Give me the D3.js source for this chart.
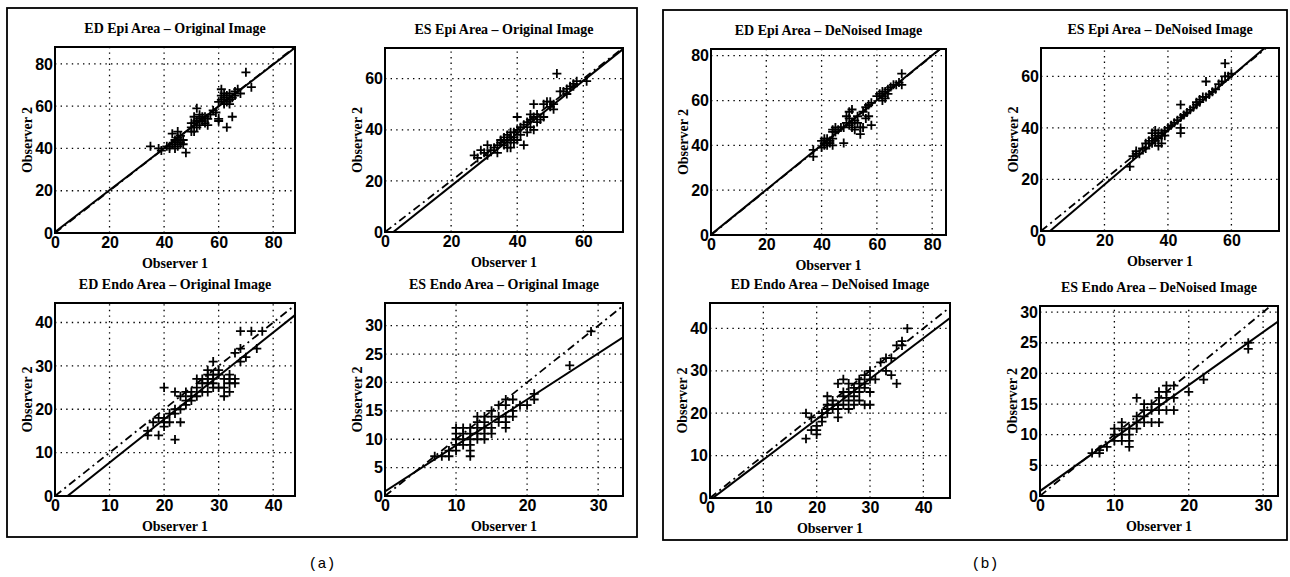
<!DOCTYPE html>
<html>
<head>
<meta charset="utf-8">
<script src="https://d3js.org/d3.v7.min.js"></script>
<style>
  body { margin: 0; background: #fff; }
  svg { font-family: "Liberation Serif", "DejaVu Serif", serif; }
  .tick text { font-weight: bold; font-size: 16px; }
  .title, .xlab, .ylab { font-weight: bold; font-size: 14px; }
  .grid line { stroke: #000; stroke-width: 1.3; stroke-dasharray: 1.4,4.2; }
  .frame { fill: none; stroke: #000; stroke-width: 2; }
  .box { fill: none; stroke: #000; stroke-width: 1.8; }
  .fit { stroke: #000; stroke-width: 2; fill: none; }
  .ident { stroke: #000; stroke-width: 1.8; fill: none; stroke-dasharray: 8,4,2,4; }
  .plus { stroke: #000; stroke-width: 1.8; }
</style>
</head>
<body>
<script>
// panel titles
var titles = [
  "ED Epi Area \u2013 Original Image", "ES Epi Area \u2013 Original Image",
  "ED Endo Area \u2013 Original Image", "ES Endo Area \u2013 Original Image",
  "ED Epi Area \u2013 DeNoised Image", "ES Epi Area \u2013 DeNoised Image",
  "ED Endo Area \u2013 DeNoised Image", "ES Endo Area \u2013 DeNoised Image"
];
var xMax = [88, 72, 44, 33.5, 85, 75, 45, 32];
var yMax = [88, 72, 44.5, 34, 83, 71, 46, 31];
var xTickVals = [[0,20,40,60,80],[0,20,40,60],[0,10,20,30,40],[0,10,20,30],
                 [0,20,40,60,80],[0,20,40,60],[0,10,20,30,40],[0,10,20,30]];
var yTickVals = [[0,20,40,60,80],[0,20,40,60],[0,10,20,30,40],[0,5,10,15,20,25,30],
                 [0,20,40,60,80],[0,20,40,60],[0,10,20,30,40],[0,5,10,15,20,25,30]];
// regression line (solid): y = slope*x + intercept ; dash-dot is y = x
var fitSlope     = [0.99, 1.03, 1.0, 0.81, 1.0, 1.05, 0.955, 0.865];
var fitIntercept = [0.5, -2.6, -2.3, 0.8, 0.2, -3.0, -0.5, 0.8];

var edEpiOrig = [[35,41],[38,40],[39,39],[42,41],[43,42],[44,43],[43,47],[45,48],[44,44],[46,42],
  [45,45],[47,44],[46,46],[48,38],[45,41],[41,41],[42,40],[44,40],[46,43],[47,42],
  [50,50],[51,52],[52,53],[52,59],[51,48],[50,48],[53,54],[54,55],[53,51],[55,55],
  [56,54],[52,50],[54,53],[50,52],[51,55],[53,56],[56,51],[55,52],[57,56],
  [60,62],[61,63],[62,64],[61,68],[62,66],[63,65],[64,63],[62,61],[63,62],[65,64],
  [66,67],[67,68],[68,66],[60,54],[60,53],[63,50],[65,55],[61,65],[64,66],[66,65],
  [70,76],[72,69],[64,61],[59,57],[58,58]];
var esEpiOrig = [[27,30],[28,29],[29,32],[30,31],[31,30],[32,32],[31,34],[33,33],[34,34],[35,36],
  [34,31],[35,35],[36,37],[37,38],[38,37],[39,39],[37,35],[38,36],[36,34],[39,35],
  [40,36],[38,33],[37,33],[36,36],[38,39],[39,37],[40,40],[41,41],[40,45],[42,34],
  [41,38],[42,42],[43,43],[44,44],[45,45],[44,41],[45,40],[46,43],[47,44],[45,50],
  [46,46],[48,50],[49,51],[50,49],[51,50],[50,51],[51,48],[52,62],[53,55],[54,55],
  [55,56],[56,57],[57,58],[58,59],[57,57],[61,59],[55,54],[44,46],[43,39],[48,45]];
var edEndoOrig = [[17,15],[17,14],[18,17],[19,18],[20,17],[20,18],[19,14],[21,17],[20,16],[21,19],
  [20,25],[22,19],[22,20],[23,20],[22,24],[23,17],[23,23],[22,13],[24,24],[24,22],
  [25,23],[25,24],[26,23],[24,21],[27,27],[27,26],[28,28],[28,27],[29,28],[29,31],
  [28,26],[29,25],[28,24],[29,27],[30,29],[30,28],[29,26],[30,25],[31,23],[31,25],
  [32,24],[32,27],[33,26],[32,26],[33,27],[32,28],[31,27],[34,34],[34,31],[35,32],
  [33,33],[34,38],[36,38],[37,34],[38,38],[26,25],[27,24],[28,29],[26,27],[25,22]];
var esEndoOrig = [[7,7],[8,7],[9,7],[9,8],[10,8],[10,9],[10,10],[11,10],[11,11],[10,11],
  [12,10],[12,11],[11,9],[12,12],[13,11],[13,12],[13,13],[12,7],[12,8],[13,10],
  [14,10],[14,12],[14,13],[14,11],[15,11],[15,15],[15,12],[16,14],[16,13],[17,12],
  [17,16],[17,14],[17,13],[18,17],[18,15],[18,14],[17,17],[19,16],[20,16],[21,18],
  [21,17],[26,23],[29,29],[11,12],[10,12],[13,14],[14,14],[15,14],[16,16],[12,9]];
var edEpiDen = [[37,38],[37,35],[40,42],[41,43],[41,40],[42,41],[40,39],[41,41],[42,40],[43,42],
  [42,43],[43,41],[44,40],[44,43],[44,46],[45,48],[44,47],[45,46],[48,48],[49,50],
  [49,53],[48,41],[50,52],[50,55],[51,56],[50,49],[51,50],[52,51],[52,47],[51,48],
  [53,50],[53,53],[54,45],[54,48],[55,48],[55,55],[56,52],[56,57],[57,58],[58,59],
  [57,53],[58,49],[60,62],[61,63],[62,60],[62,62],[63,64],[62,64],[64,65],[65,66],
  [66,67],[67,67],[68,68],[69,72],[69,67],[63,61],[64,63],[47,48],[46,47]];
var esEpiDen = [[28,25],[29,29],[30,30],[30,31],[31,30],[32,32],[33,34],[34,35],[35,36],[35,34],
  [36,37],[36,35],[37,38],[37,36],[35,38],[36,39],[38,38],[38,37],[39,39],[38,34],
  [37,33],[39,37],[40,40],[41,41],[42,42],[43,43],[44,44],[44,40],[44,38],[44,49],
  [45,45],[46,46],[47,47],[48,48],[49,49],[50,50],[50,51],[51,52],[52,52],[52,58],
  [53,53],[54,54],[55,55],[56,57],[57,58],[58,60],[59,60],[58,65],[60,61],[49,50],
  [34,34],[33,32]];
var edEndoDen = [[18,14],[18,20],[19,19],[19,16],[20,16],[20,15],[20,17],[21,19],[21,18],[22,24],
  [22,21],[22,22],[23,22],[23,21],[23,23],[24,22],[24,19],[24,27],[25,28],[25,22],
  [25,25],[25,24],[26,23],[26,27],[26,25],[27,22],[27,24],[27,26],[28,28],[28,27],
  [28,25],[28,23],[29,29],[29,27],[29,26],[30,30],[30,25],[30,22],[29,22],[30,28],
  [31,28],[32,32],[33,33],[33,30],[34,29],[34,33],[35,27],[35,36],[36,37],[37,40],
  [36,36],[26,21],[24,21],[21,20],[22,20]];
var esEndoDen = [[7,7],[8,7],[8,7.5],[9,8],[10,9],[10,10],[10,11],[11,10],[11,11],[11,12],
  [11,9],[12,10],[12,11],[12,8],[12,9],[13,11],[13,12],[13,13],[14,14],[14,12],
  [14,13],[15,15],[15,14],[15,12],[16,12],[16,15],[16,16],[16,17],[17,17],[17,16],
  [17,18],[17,14],[18,16],[18,18],[18,14],[20,17],[22,19],[28,25],[28,24],[13,16],
  [14,15],[16,14]];
var pointSets = [edEpiOrig, esEpiOrig, edEndoOrig, esEndoOrig, edEpiDen, esEpiDen, edEndoDen, esEndoDen];

// plot rectangles [left, right, top, bottom]
var rects = [
  [55, 295, 47, 233], [385, 623, 48, 232],
  [55, 295, 303, 496], [385, 623, 303, 496],
  [711, 946, 49, 235], [1041, 1279, 48, 231],
  [710, 950, 303, 498], [1040, 1278, 306, 496]
];

var W = 1290, H = 577;
var svg = d3.select("body").append("svg").attr("width", W).attr("height", H);

svg.append("rect").attr("class", "box").attr("x", 7).attr("y", 8).attr("width", 630).attr("height", 529);
svg.append("rect").attr("class", "box").attr("x", 663).attr("y", 10).attr("width", 624).attr("height", 530);
svg.append("text").attr("x", 322).attr("y", 568).attr("text-anchor", "middle")
  .style("font-family", "Liberation Mono").style("font-size", "15px").text("(a)");
svg.append("text").attr("x", 985).attr("y", 568).attr("text-anchor", "middle")
  .style("font-family", "Liberation Mono").style("font-size", "15px").text("(b)");

titles.forEach(function(t, i) {
  var r = rects[i];
  var x = d3.scaleLinear().domain([0, xMax[i]]).range([r[0], r[1]]);
  var y = d3.scaleLinear().domain([0, yMax[i]]).range([r[3], r[2]]);
  var g = svg.append("g");

  g.append("clipPath").attr("id", "clip" + i).append("rect")
    .attr("x", r[0]).attr("y", r[2]).attr("width", r[1] - r[0]).attr("height", r[3] - r[2]);

  // dotted grid
  var grid = g.append("g").attr("class", "grid");
  grid.selectAll(".gx").data(xTickVals[i].filter(function(v) { return v > 0; })).enter().append("line")
    .attr("x1", function(d) { return x(d); }).attr("x2", function(d) { return x(d); })
    .attr("y1", r[3]).attr("y2", r[2]);
  grid.selectAll(".gy").data(yTickVals[i].filter(function(v) { return v > 0; })).enter().append("line")
    .attr("y1", function(d) { return y(d); }).attr("y2", function(d) { return y(d); })
    .attr("x1", r[0]).attr("x2", r[1]);

  // axes
  g.append("g").attr("transform", "translate(0," + r[3] + ")")
    .call(d3.axisBottom(x).tickValues(xTickVals[i]).tickSize(0).tickPadding(4))
    .call(function(a) { a.select(".domain").remove(); });
  g.append("g").attr("transform", "translate(" + r[0] + ",0)")
    .call(d3.axisLeft(y).tickValues(yTickVals[i]).tickSize(0).tickPadding(2))
    .call(function(a) { a.select(".domain").remove(); });
  g.selectAll(".tick text").attr("fill", "#000");

  var lines = g.append("g").attr("clip-path", "url(#clip" + i + ")");
  var m = Math.max(xMax[i], yMax[i]);
  lines.append("line").attr("class", "ident")
    .attr("x1", x(0)).attr("y1", y(0)).attr("x2", x(m)).attr("y2", y(m));
  lines.append("line").attr("class", "fit")
    .attr("x1", x(0)).attr("y1", y(fitIntercept[i]))
    .attr("x2", x(xMax[i])).attr("y2", y(fitSlope[i] * xMax[i] + fitIntercept[i]));

  // plus markers
  g.selectAll(".plus").data(pointSets[i]).enter().append("path")
    .attr("class", "plus")
    .attr("d", function(d) {
      var px = x(d[0]), py = y(d[1]), s = 4.5;
      return "M" + (px - s) + "," + py + "H" + (px + s) + "M" + px + "," + (py - s) + "V" + (py + s);
    });

  g.append("rect").attr("class", "frame")
    .attr("x", r[0]).attr("y", r[2]).attr("width", r[1] - r[0]).attr("height", r[3] - r[2]);

  var cx = (r[0] + r[1]) / 2;
  g.append("text").attr("class", "title").attr("x", cx).attr("y", r[2] - 14)
    .attr("text-anchor", "middle").text(t);
  g.append("text").attr("class", "xlab").attr("x", cx).attr("y", r[3] + 35)
    .attr("text-anchor", "middle").text("Observer 1");
  g.append("text").attr("class", "ylab")
    .attr("transform", "translate(" + (r[0] - 23) + "," + ((r[2] + r[3]) / 2) + ") rotate(-90)")
    .attr("text-anchor", "middle").text("Observer 2");
});
</script>
</body>
</html>
